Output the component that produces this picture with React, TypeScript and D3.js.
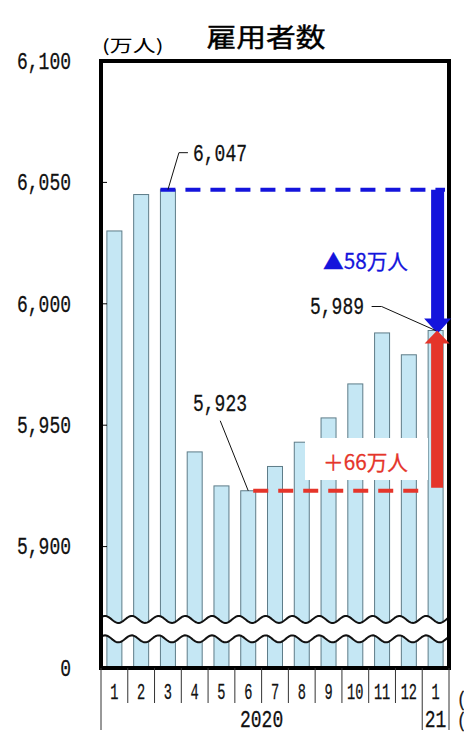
import { useEffect, useRef } from "react";
import * as d3 from "d3";

// 雇用者数 (万人), 2020年1月〜2021年1月
const months = ["1", "2", "3", "4", "5", "6", "7", "8", "9", "10", "11", "12", "1"];
const employees = [6030, 6045, 6047, 5939, 5925, 5923, 5933, 5943, 5953, 5967, 5988, 5979, 5989];
const years = [
  { label: "2020", start: 0, end: 12 },
  { label: "21", start: 12, end: 13 },
];
const yTicks = [5850, 5900, 5950, 6000, 6050, 6100];
const yTickLabels = ["0", "5,900", "5,950", "6,000", "6,050", "6,100"];
// axis break drawn between these two levels (the bottom tick stands for 0)
const breakLevels = [5870, 5862];
const peakIdx = 2;
const troughIdx = 5;
const lastIdx = 12;
const title = "雇用者数";
const unit = "(万人)";

const W = 464;
const H = 744;
const MONO = "'Liberation Mono', 'DejaVu Sans Mono', monospace";
const JP = "'Noto Sans CJK JP', 'Noto Sans', sans-serif";
const BLUE = "#1414dc";
const RED = "#e5352a";

export default function App() {
  const svgRef = useRef<SVGSVGElement>(null);

  useEffect(() => {
    if (!svgRef.current) return;
    const svg = d3.select(svgRef.current);
    svg.selectAll("*").remove();

    const left = 101;
    const right = 449;
    const top = 61;
    const bottom = 668;

    const idx = months.map((_, i) => String(i));
    const xBand = d3.scaleBand().domain(idx).range([left, right]).paddingInner(0.44).paddingOuter(0.22);
    const xCell = d3.scaleBand().domain(idx).range([left, right]);
    const step = xCell.step();
    const bw = xBand.bandwidth();
    const y = d3.scaleLinear().domain([yTicks[0], yTicks[yTicks.length - 1]]).range([bottom, top]);
    const fmt = d3.format(",");

    const mono = (
      x: number,
      yy: number,
      text: string,
      anchor: string,
      size = 24,
      sx = 0.75,
      fill = "#111"
    ) =>
      svg
        .append("text")
        .attr("transform", `translate(${x},${yy}) scale(${sx},1)`)
        .attr("text-anchor", anchor)
        .attr("dominant-baseline", "central")
        .style("font-family", MONO)
        .style("font-size", `${size}px`)
        .attr("fill", fill)
        .attr("stroke", fill)
        .attr("stroke-width", 0.3)
        .text(text);

    // title + unit
    svg
      .append("text")
      .attr("x", 266)
      .attr("y", 35)
      .attr("text-anchor", "middle")
      .attr("dominant-baseline", "central")
      .attr("textLength", 119)
      .attr("lengthAdjust", "spacingAndGlyphs")
      .style("font-family", JP)
      .style("font-size", "26px")
      .style("font-weight", 400)
      .attr("stroke", "#000")
      .attr("stroke-width", 0.4)
      .text(title);
    svg
      .append("text")
      .attr("transform", "translate(102,45) scale(1.35,1)")
      .attr("dominant-baseline", "central")
      .style("font-family", JP)
      .style("font-size", "17px")
      .text(unit);

    // bars
    svg
      .append("g")
      .selectAll("rect")
      .data(employees)
      .join("rect")
      .attr("x", (_, i) => xBand(String(i)) ?? 0)
      .attr("y", (d) => y(d))
      .attr("width", bw)
      .attr("height", (d) => bottom - y(d))
      .attr("fill", "#c5e7f4")
      .attr("stroke", "#5e7c88")
      .attr("stroke-width", 1);

    // wavy break
    const amp = 3.5;
    const phase = left + 4;
    const xs = d3.range(left, right + 0.5, 1);
    const wave = (level: number) =>
      xs.map((x) => [x, y(level) - amp * Math.cos((2 * Math.PI * (x - phase)) / step)] as [number, number]);
    const topWave = wave(breakLevels[0]);
    const botWave = wave(breakLevels[1]);
    svg
      .append("path")
      .attr("d", (d3.line()([...topWave, ...botWave.slice().reverse()]) ?? "") + "Z")
      .attr("fill", "#fff");
    [topWave, botWave].forEach((w) =>
      svg
        .append("path")
        .attr("d", d3.line()(w) ?? "")
        .attr("fill", "none")
        .attr("stroke", "#111")
        .attr("stroke-width", 2)
    );

    // frame
    svg
      .append("rect")
      .attr("x", left)
      .attr("y", top)
      .attr("width", right - left)
      .attr("height", bottom - top)
      .attr("fill", "none")
      .attr("stroke", "#000")
      .attr("stroke-width", 4);

    // y ticks (inward) + labels
    yTicks.forEach((t, i) => {
      if (i > 0 && i < yTicks.length - 1) {
        svg
          .append("line")
          .attr("x1", left)
          .attr("x2", left + 6)
          .attr("y1", y(t))
          .attr("y2", y(t))
          .attr("stroke", "#000")
          .attr("stroke-width", 1);
      }
      mono(71, y(t) + 1, yTickLabels[i], "end");
    });

    // category axis
    d3.range(months.length + 1).forEach((i) => {
      const x = left + i * step;
      const long = years.some((yr) => yr.start === i || yr.end === i);
      svg
        .append("line")
        .attr("x1", x)
        .attr("x2", x)
        .attr("y1", bottom)
        .attr("y2", long ? 730 : 703)
        .attr("stroke", "#333")
        .attr("stroke-width", 1);
    });
    months.forEach((m, i) => mono((xCell(String(i)) ?? 0) + step / 2, 693, m, "middle", 22, 0.62));
    years.forEach((yr) => mono(left + ((yr.start + yr.end) / 2) * step, 720, yr.label, "middle", 24, 0.75));
    mono(457, 700, "(月)", "start", 20, 0.8);
    mono(457, 721, "(年)", "start", 20, 0.8);

    // reference lines
    const cx = (i: number) => (xBand(String(i)) ?? 0) + bw / 2;
    const arrowX = cx(lastIdx) + 2;
    svg
      .append("line")
      .attr("x1", xBand(String(peakIdx)) ?? 0)
      .attr("x2", right - 4)
      .attr("y1", y(employees[peakIdx]))
      .attr("y2", y(employees[peakIdx]))
      .attr("stroke", BLUE)
      .attr("stroke-width", 4)
      .attr("stroke-dasharray", "15 10");

    // white box behind the rise label
    svg.append("rect").attr("x", 305).attr("y", 438).attr("width", 123).attr("height", 42).attr("fill", "#fff");

    svg
      .append("line")
      .attr("x1", cx(troughIdx) + 5)
      .attr("x2", arrowX - 10)
      .attr("y1", y(employees[troughIdx]))
      .attr("y2", y(employees[troughIdx]))
      .attr("stroke", RED)
      .attr("stroke-width", 4)
      .attr("stroke-dasharray", "15 10");

    // arrows
    const arrow = (x: number, y0: number, y1: number, color: string, shaftW: number, headW: number, headL: number) => {
      const dir = y1 > y0 ? 1 : -1;
      const yb = y1 - dir * headL;
      const pts: [number, number][] = [
        [x - shaftW / 2, y0],
        [x + shaftW / 2, y0],
        [x + shaftW / 2, yb],
        [x + headW / 2, yb],
        [x, y1],
        [x - headW / 2, yb],
        [x - shaftW / 2, yb],
      ];
      svg
        .append("path")
        .attr("d", (d3.line()(pts) ?? "") + "Z")
        .attr("fill", color);
    };
    arrow(arrowX, y(employees[peakIdx]), y(employees[lastIdx]) + 3, BLUE, 13, 27, 15);
    arrow(arrowX - 0.5, y(employees[troughIdx]) - 3, y(employees[lastIdx]), RED, 12, 25, 13);

    // delta labels
    const drop = employees[peakIdx] - employees[lastIdx];
    const rise = employees[lastIdx] - employees[troughIdx];
    const deltaLabel = (yy: number, text: string, color: string) =>
      svg
        .append("text")
        .attr("x", 323)
        .attr("y", yy)
        .attr("dominant-baseline", "central")
        .attr("textLength", 85)
        .attr("lengthAdjust", "spacingAndGlyphs")
        .style("font-family", JP)
        .style("font-size", "21px")
        .style("font-weight", 400)
        .attr("fill", color)
        .attr("stroke", color)
        .attr("stroke-width", 0.3)
        .text(text);
    deltaLabel(260, `▲${drop}万人`, BLUE);
    deltaLabel(461, `＋${rise}万人`, RED);

    // value callouts
    const leader = (pts: [number, number][]) =>
      svg
        .append("path")
        .attr("d", d3.line()(pts) ?? "")
        .attr("fill", "none")
        .attr("stroke", "#111")
        .attr("stroke-width", 1);
    const pk = [cx(peakIdx), y(employees[peakIdx])] as const;
    leader([
      [pk[0] + 20, pk[1] - 37],
      [pk[0] + 11, pk[1] - 37],
      [pk[0], pk[1]],
    ]);
    mono(193, 154, fmt(employees[peakIdx]), "start");

    const tr = [cx(troughIdx), y(employees[troughIdx])] as const;
    leader([
      [tr[0] - 28, tr[1] - 70],
      [tr[0], tr[1]],
    ]);
    mono(193, 404, fmt(employees[troughIdx]), "start");

    const ls = [cx(lastIdx), y(employees[lastIdx])] as const;
    leader([
      [ls[0] - 64, ls[1] - 24],
      [ls[0] - 54, ls[1] - 24],
      [ls[0], ls[1]],
    ]);
    mono(310, 307, fmt(employees[lastIdx]), "start");
  }, []);

  return (
    <svg
      ref={svgRef}
      width={W}
      height={H}
      style={{ position: "absolute", left: 0, top: 0, background: "#fff", display: "block" }}
    />
  );
}
